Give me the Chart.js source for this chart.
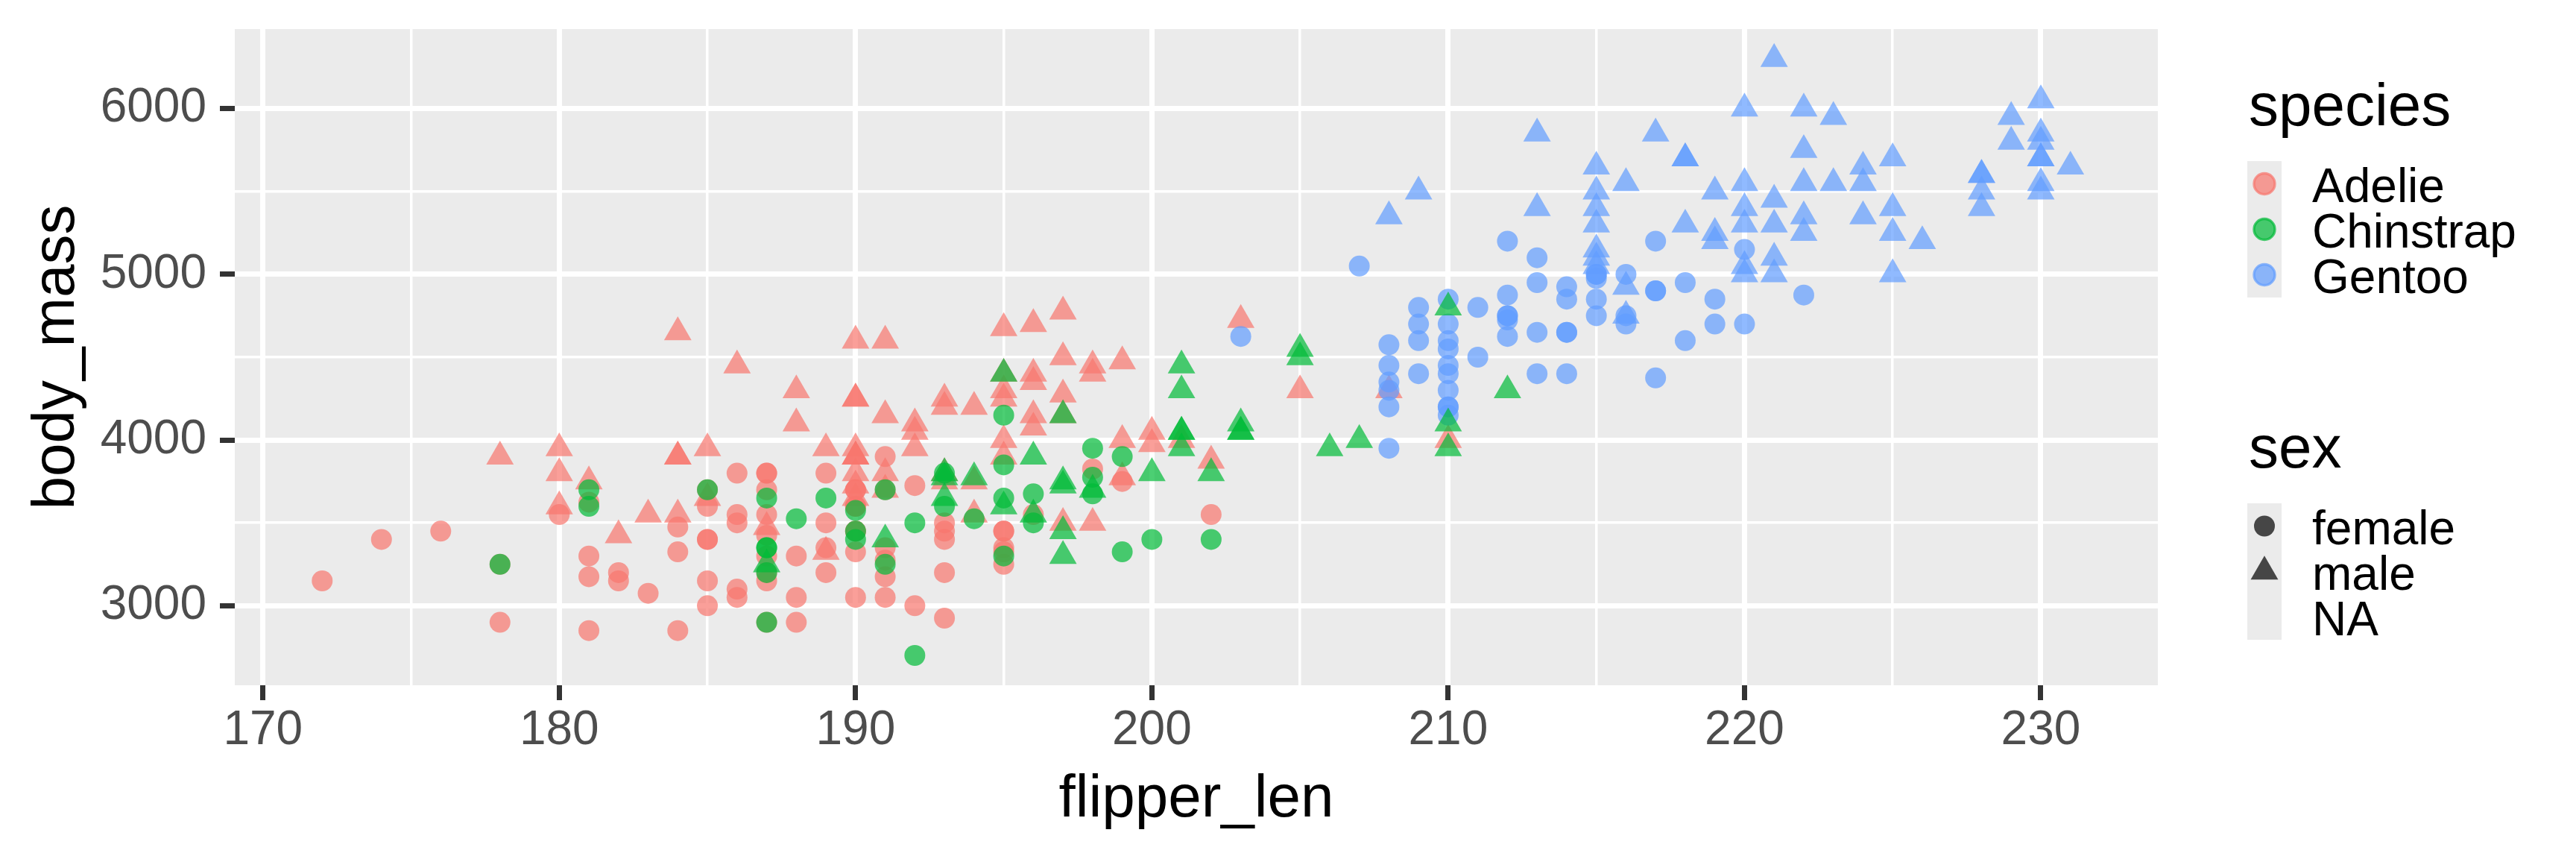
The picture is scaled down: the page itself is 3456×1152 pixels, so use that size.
<!DOCTYPE html>
<html>
<head>
<meta charset="utf-8">
<script src="https://cdn.jsdelivr.net/npm/chart.js@4.4.1/dist/chart.umd.min.js"></script>
<style>
html,body{margin:0;padding:0;background:#ffffff;}
#wrap{width:3456px;height:1152px;position:relative;}
</style>
</head>
<body>
<div id="wrap"><canvas id="c" width="3456" height="1152"></canvas></div>
<script>
// ---------------- DATA (rows in dataset order) ----------------
const speciesNames = ['Adelie', 'Chinstrap', 'Gentoo'];
const sexLabels = ['female', 'male', 'NA'];
const xTickLabels = [170, 180, 190, 200, 210, 220, 230];
const xMinorTicks = [175, 185, 195, 205, 215, 225];
const yTickLabels = [3000, 4000, 5000, 6000];
const yMinorTicks = [3500, 4500, 5500];

const adelieFlipper = [181,186,195,null,193,190,181,195,193,190,186,180,182,191,198,185,195,197,184,194,
  174,180,189,185,180,187,183,187,172,180,
  178,178,188,184,195,196,190,180,181,184,182,195,186,196,185,190,182,179,190,191,
  186,188,190,200,187,191,186,193,181,194,185,195,185,192,184,192,195,188,
  190,198,190,190,196,197,190,195,191,184,187,195,189,196,187,193,
  191,194,190,189,189,190,202,205,185,186,187,208,190,196,178,192,
  192,203,183,190,193,184,199,190,181,197,198,191,193,197,191,196,
  188,199,189,189,187,198,176,202,186,199,191,195,191,210,190,197,
  193,199,187,190,191,200,185,193,193,187,188,190,192,185,190,184,195,193,187,201];
const adelieMass = [3750,3800,3250,null,3450,3650,3625,4675,3475,4250,3300,3700,3200,3800,4400,3700,3450,4500,3325,4200,
  3400,3600,3800,3950,3800,3800,3550,3200,3150,3950,
  3250,3900,3300,3900,3325,4150,3950,3550,3300,4650,3150,3900,3100,4400,3000,4600,3425,2975,3450,4150,
  3500,4300,3450,4050,2900,3700,3550,3800,2850,3750,3150,4400,3600,4050,2850,3950,3350,4100,
  3050,4450,3600,3900,3550,4150,3700,4250,3700,3900,3550,4000,3200,4700,3800,4200,
  3350,3550,3800,3500,3950,3600,3550,4300,3400,4450,3300,4300,3700,4350,2900,4100,
  3725,4725,3075,4250,2925,3550,3750,3900,3175,4775,3825,4600,3200,4275,3900,4075,
  2900,3775,3350,3325,3150,3500,3450,3875,3050,4000,3275,4300,3050,4000,3325,3500,
  3500,4475,3425,3900,3175,3975,3400,4250,3400,3475,3050,3725,3000,3650,4250,3475,3450,3750,3700,4000];
const adelieSex = ['m','f','f',null,'f','m','f','m',null,null,null,null,'f','m','m','f','f','m','f','m',
  'f','m','f','m','m','f','m','f','f','m',
  'f','m','f','m','f','m','m','f','f','m','f','m','f','m','f','m','m',null,'f','m',
  'f','m','f','m','f','m','f','m','f','m','f','m','f','m','f','m','f','m',
  'f','m','f','m','f','m','f','m','f','m','f','m','f','m','f','m',
  'f','m','m','f','m','f','f','m','f','m','f','m','f','m','f','m',
  'f','m','f','m','f','m','f','m','f','m','f','m','f','m','f','m',
  'f','m','f','m','f','m','f','m','f','m','f','m','f','m','f','m',
  'f','m','f','m','f','m','f','m','f','m','f','m','f','m','m','f','f','m','f','m'];

const gentooFlipper = [211,230,210,218,215,210,211,219,209,215,
  214,216,214,213,210,217,210,221,209,222,
  218,215,213,215,215,215,216,215,210,220,
  222,209,207,230,220,220,213,219,208,208,
  208,225,210,216,222,217,210,225,213,215,
  210,220,210,225,217,220,208,220,208,224,
  208,221,214,231,219,230,214,229,220,223,
  216,221,221,217,216,230,209,220,215,223,
  212,221,212,224,212,228,218,218,212,230,
  218,228,212,224,214,226,216,222,203,225,
  219,228,215,228,216,215,210,219,208,209,
  216,229,213,230,217,230,217,222,214,null,
  215,222,212,213];
const gentooMass = [4500,5700,4450,5700,5400,4550,4800,5200,4400,5150,
  4650,5550,4650,5850,4200,5850,4150,6300,4800,5350,
  5700,5000,4400,5050,5000,5100,4100,5650,4600,5550,
  5250,4700,5050,6050,5150,5400,4950,5250,4350,5350,
  3950,5700,4300,4750,5550,4900,4200,5400,5100,5300,
  4850,5300,4400,5000,4900,5050,4300,5000,4450,5550,
  4200,5300,4400,5650,4700,5700,4650,5800,4700,5550,
  4750,5000,5100,5200,4700,5800,4600,6000,4750,5950,
  4625,5450,4725,5350,4750,5600,4600,5300,4875,5550,
  4950,5400,4750,5650,4850,5200,4925,4875,4625,5250,
  4850,5600,4975,5500,4725,5500,4700,5500,4575,5500,
  5000,5950,4650,5500,4375,5850,4875,6000,4925,null,
  4850,5750,5200,5400];
const gentooSex = ['f','m','f','m','m','f','f','m','f','m',
  'f','m','f','m','f','m','f','m','f','m',
  'm','f','f','m','f','m',null,'m','f','m',
  'm','f','f','m','f','m','f','m','f','m',
  'f','m','f','m','m','f','f','m','f','m',
  'f','m','f','m','f','m','f','m','f','m',
  'f','m','f','m','f','m',null,'m','f','m',
  'f','m','m','f','f','m','f','m','f','m',
  'f','m','f','m','f','m','f','m','f','m',
  'f','m','f','m','f','m','m','f','f','m',
  'f','m','f','m',null,'m','f','m','f','m',
  'f','m','f','m','f','m',null,'m','f',null,
  'f','m','f','m'];

const chinstrapFlipper = [192,196,193,188,197,198,178,197,195,198,
  193,194,185,201,190,201,197,181,190,195,
  181,191,187,193,195,197,200,200,191,205,
  187,201,187,203,195,199,195,210,192,205,
  210,187,196,196,196,201,190,212,187,198,
  199,201,193,203,187,197,191,203,202,194,
  206,189,195,207,202,193,210,198];
const chinstrapMass = [3500,3900,3650,3525,3725,3950,3250,3750,4150,3700,
  3800,3775,3700,4050,3575,4050,3300,3700,3450,4400,
  3600,3400,2900,3800,3300,4150,3400,3800,3700,4550,
  3200,4300,3350,4100,3600,3900,3850,4800,2700,4500,
  3950,3650,3550,3500,3675,4450,3400,4300,3250,3675,
  3325,3950,3600,4050,3350,3450,3250,4050,3800,3525,
  3950,3650,3650,4000,3400,3775,4100,3775];
const chinstrapSex = ['f','m','m','f','m','f','f','m','f','m',
  'f','m','f','m','f','m','m','f','f','m',
  'f','m','f','m','f','m','f','m','f','m',
  'f','m','f','m','m','f','f','m','f','m',
  'm','f','m','f','f','m','f','m','m','f',
  'f','m','f','m','f','m','f','m','m','f',
  'm','f','f','m','f','m','m','f'];

// ---------------- STYLE ----------------
const FONT = "'Liberation Sans', Arial, Helvetica, sans-serif";
const speciesColor = {
  Adelie: 'rgba(248,118,109,0.7)',
  Chinstrap: 'rgba(0,186,56,0.7)',
  Gentoo: 'rgba(97,156,255,0.7)'
};
const CIRCLE_R = 14;
const TRI_R = 21.3;

// build points in the dataset's row order (Adelie, Gentoo, Chinstrap)
const points = [];
function addRows(sp, fl, ms, sx) {
  for (let i = 0; i < fl.length; i++) {
    if (fl[i] == null || ms[i] == null || sx[i] == null) continue; // NA shape => not drawn
    points.push({x: fl[i], y: ms[i], sp: sp, sex: sx[i]});
  }
}
addRows('Adelie', adelieFlipper, adelieMass, adelieSex);
addRows('Gentoo', gentooFlipper, gentooMass, gentooSex);
addRows('Chinstrap', chinstrapFlipper, chinstrapMass, chinstrapSex);

// ggplot-style 5% expansion of the data range
const allX = points.map(p => p.x), allY = points.map(p => p.y);
const xLo = Math.min(...allX), xHi = Math.max(...allX);
const yLo = Math.min(...allY), yHi = Math.max(...allY);
const xMin = xLo - 0.05 * (xHi - xLo), xMax = xHi + 0.05 * (xHi - xLo);
const yMin = yLo - 0.05 * (yHi - yLo), yMax = yHi + 0.05 * (yHi - yLo);

const xAllTicks = xTickLabels.concat(xMinorTicks).sort((a, b) => a - b);
const yAllTicks = yTickLabels.concat(yMinorTicks).sort((a, b) => a - b);

// ---------------- PLUGINS ----------------
const panelBg = {
  id: 'panelBg',
  beforeDraw(chart) {
    const {ctx, chartArea: a} = chart;
    ctx.save();
    ctx.fillStyle = '#FFFFFF';
    ctx.fillRect(0, 0, chart.width, chart.height);
    ctx.fillStyle = '#EBEBEB';
    ctx.fillRect(a.left, a.top, a.right - a.left, a.bottom - a.top);
    ctx.restore();
  }
};

function triPath(ctx, x, y, r) {
  const s = Math.sin(Math.PI / 3) * r;
  ctx.beginPath();
  ctx.moveTo(x, y - r);
  ctx.lineTo(x + s, y + r / 2);
  ctx.lineTo(x - s, y + r / 2);
  ctx.closePath();
}

const decorations = {
  id: 'decorations',
  afterDraw(chart) {
    const {ctx, chartArea: a} = chart;
    ctx.save();
    // axis titles
    ctx.fillStyle = '#000000';
    ctx.font = '80px ' + FONT;
    ctx.textAlign = 'center';
    ctx.textBaseline = 'alphabetic';
    ctx.fillText('flipper_len', (a.left + a.right) / 2, 1095);
    ctx.save();
    ctx.translate(99, (a.top + a.bottom) / 2);
    ctx.rotate(-Math.PI / 2);
    ctx.fillText('body_mass', 0, 0);
    ctx.restore();

    // legends
    const keyX = 3015, keyW = 46, keyH = 61, cx = keyX + keyW / 2, textX = 3102;
    ctx.textAlign = 'left';

    // species legend
    ctx.font = '80px ' + FONT;
    ctx.fillStyle = '#000000';
    ctx.fillText('species', 3017, 168);
    let top = 216;
    ctx.fillStyle = '#EBEBEB';
    ctx.fillRect(keyX, top, keyW, keyH * speciesNames.length);
    speciesNames.forEach((sp, i) => {
      const cy = top + keyH * i + keyH / 2;
      ctx.beginPath();
      ctx.arc(cx, cy, CIRCLE_R, 0, Math.PI * 2);
      ctx.fillStyle = speciesColor[sp];
      ctx.fill();
      ctx.lineWidth = 3.4;
      ctx.strokeStyle = speciesColor[sp];
      ctx.stroke();
      ctx.fillStyle = '#000000';
      ctx.font = '64px ' + FONT;
      ctx.fillText(sp, textX, cy + 24);
    });

    // sex legend
    ctx.font = '80px ' + FONT;
    ctx.fillStyle = '#000000';
    ctx.fillText('sex', 3017, 627);
    top = 675;
    ctx.fillStyle = '#EBEBEB';
    ctx.fillRect(keyX, top, keyW, keyH * sexLabels.length);
    sexLabels.forEach((lab, i) => {
      const cy = top + keyH * i + keyH / 2;
      ctx.fillStyle = 'rgba(0,0,0,0.7)';
      if (lab === 'female') {
        ctx.beginPath();
        ctx.arc(cx, cy, CIRCLE_R, 0, Math.PI * 2);
        ctx.fill();
      } else if (lab === 'male') {
        triPath(ctx, cx, cy, TRI_R);
        ctx.fill();
      }
      ctx.fillStyle = '#000000';
      ctx.font = '64px ' + FONT;
      ctx.fillText(lab, textX, cy + 24);
    });
    ctx.restore();
  }
};

// ---------------- CHART ----------------
const isMajorX = v => xTickLabels.includes(v);
const isMajorY = v => yTickLabels.includes(v);

new Chart(document.getElementById('c'), {
  type: 'scatter',
  data: {
    datasets: [{
      data: points,
      backgroundColor: ctx => speciesColor[ctx.raw.sp],
      borderWidth: 0,
      borderColor: 'rgba(0,0,0,0)',
      pointStyle: ctx => ctx.raw.sex === 'm' ? 'triangle' : 'circle',
      pointRadius: ctx => ctx.raw.sex === 'm' ? TRI_R : CIRCLE_R,
      pointHoverRadius: ctx => ctx.raw.sex === 'm' ? TRI_R : CIRCLE_R,
      clip: false
    }]
  },
  options: {
    responsive: false,
    devicePixelRatio: 1,
    animation: false,
    events: [],
    layout: {padding: {left: 0, top: 39, right: 561, bottom: 0}, autoPadding: false},
    plugins: {legend: {display: false}, tooltip: {enabled: false}, title: {display: false}},
    scales: {
      x: {
        type: 'linear',
        position: 'bottom',
        min: xMin,
        max: xMax,
        afterBuildTicks: s => { s.ticks = xAllTicks.map(v => ({value: v})); },
        afterFit: s => { s.height = 233; s.paddingLeft = 0; s.paddingRight = 0; s.paddingTop = 0; s.paddingBottom = 0; },
        border: {display: false},
        grid: {
          color: '#FFFFFF',
          lineWidth: c => isMajorX(c.tick.value) ? 7 : 3.5,
          drawTicks: true,
          tickLength: 20,
          tickWidth: 7,
          tickColor: c => isMajorX(c.tick.value) ? '#333333' : 'rgba(0,0,0,0)'
        },
        ticks: {
          color: '#4D4D4D',
          font: {family: FONT, size: 64},
          padding: 3,
          maxRotation: 0,
          minRotation: 0,
          autoSkip: false,
          callback: v => isMajorX(v) ? String(v) : ''
        }
      },
      y: {
        type: 'linear',
        position: 'left',
        min: yMin,
        max: yMax,
        afterBuildTicks: s => { s.ticks = yAllTicks.map(v => ({value: v})); },
        afterFit: s => { s.width = 315; s.paddingLeft = 0; s.paddingRight = 0; s.paddingTop = 0; s.paddingBottom = 0; },
        border: {display: false},
        grid: {
          color: '#FFFFFF',
          lineWidth: c => isMajorY(c.tick.value) ? 7 : 3.5,
          drawTicks: true,
          tickLength: 20,
          tickWidth: 7,
          tickColor: c => isMajorY(c.tick.value) ? '#333333' : 'rgba(0,0,0,0)'
        },
        ticks: {
          color: '#4D4D4D',
          font: {family: FONT, size: 64},
          padding: 18,
          autoSkip: false,
          callback: v => isMajorY(v) ? String(v) : ''
        }
      }
    }
  },
  plugins: [panelBg, decorations]
});
</script>
</body>
</html>
